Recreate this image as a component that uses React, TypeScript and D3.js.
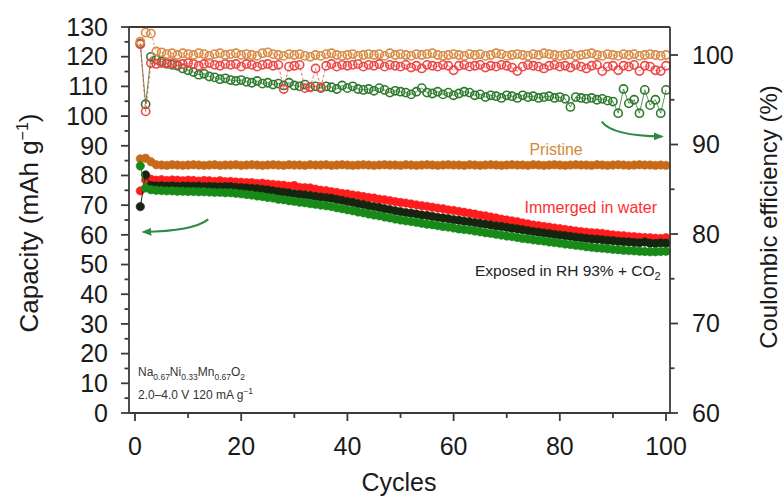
import React from 'react';
import * as d3 from 'd3';

// ---------- data ----------
const cycles: number[] = d3.range(1, 101);

const xTicks = [0, 10, 20, 30, 40, 50, 60, 70, 80, 90, 100];
const xTickLabels = [0, 20, 40, 60, 80, 100];
const yLeftTicks = [0, 10, 20, 30, 40, 50, 60, 70, 80, 90, 100, 110, 120, 130];
const yRightTicks = [60, 70, 80, 90, 100];

// Capacity (mAh g-1), left axis
const capPristine = [
  85.6, 85.8, 84.6, 83.6, 83.5, 83.4, 83.6, 83.5, 83.4, 83.5,
  83.6, 83.5, 83.4, 83.5, 83.6, 83.4, 83.5, 83.5, 83.6, 83.4,
  83.5, 83.6, 83.5, 83.4, 83.5, 83.6, 83.5, 83.4, 83.6, 83.5,
  83.5, 83.4, 83.6, 83.5, 83.5, 83.6, 83.4, 83.5, 83.6, 83.5,
  83.4, 83.5, 83.6, 83.5, 83.4, 83.5, 83.6, 83.5, 83.5, 83.4,
  83.6, 83.5, 83.4, 83.5, 83.6, 83.5, 83.4, 83.5, 83.6, 83.5,
  83.5, 83.4, 83.6, 83.5, 83.4, 83.5, 83.6, 83.5, 83.4, 83.5,
  83.6, 83.5, 83.5, 83.4, 83.6, 83.5, 83.4, 83.5, 83.6, 83.5,
  83.4, 83.5, 83.6, 83.5, 83.5, 83.4, 83.6, 83.5, 83.4, 83.5,
  83.6, 83.5, 83.4, 83.5, 83.6, 83.5, 83.5, 83.4, 83.5, 83.4,
];

const capWater = [
  74.8, 78.5, 78.7, 78.4, 78.6, 78.3, 78.5, 78.4, 78.2, 78.4,
  78.3, 78.1, 78.3, 78.2, 78.0, 78.2, 77.9, 78.0, 77.8, 77.7,
  77.6, 77.6, 77.3, 77.4, 77.1, 77.0, 76.8, 76.7, 76.4, 76.6,
  76.0, 75.9, 75.8, 75.4, 75.0, 74.9, 74.5, 74.3, 73.9, 73.8,
  73.4, 73.2, 72.9, 72.6, 72.4, 72.0, 71.8, 71.5, 71.2, 70.9,
  70.7, 70.4, 70.1, 69.8, 69.6, 69.3, 69.0, 68.8, 68.4, 68.2,
  67.9, 67.6, 67.3, 67.0, 66.6, 66.4, 66.0, 65.7, 65.3, 65.0,
  64.7, 64.4, 64.0, 63.7, 63.3, 63.1, 62.8, 62.6, 62.3, 62.1,
  61.8, 61.6, 61.3, 61.1, 60.9, 60.7, 60.6, 60.5, 60.2, 60.0,
  59.8, 59.7, 59.5, 59.4, 59.2, 59.1, 59.0, 58.9, 58.8, 59.0,
];

const capExposedCO2 = [
  69.5, 80.2, 76.6, 76.5, 76.5, 76.4, 76.5, 76.3, 76.4, 76.4,
  76.3, 76.4, 76.2, 76.3, 76.2, 76.1, 76.2, 76.2, 76.0, 75.9,
  75.8, 75.6, 75.5, 75.3, 75.1, 74.8, 74.5, 74.3, 74.1, 73.8,
  73.6, 73.4, 73.2, 72.9, 72.7, 72.5, 72.3, 71.9, 71.6, 71.2,
  70.9, 70.5, 70.2, 69.8, 69.5, 69.2, 68.8, 68.5, 68.1, 67.8,
  67.5, 67.3, 67.0, 66.7, 66.5, 66.2, 65.9, 65.7, 65.4, 65.1,
  64.9, 64.6, 64.4, 64.1, 63.8, 63.6, 63.3, 63.0, 62.8, 62.5,
  62.2, 62.0, 61.7, 61.4, 61.1, 60.9, 60.6, 60.4, 60.1, 59.9,
  59.7, 59.5, 59.2, 59.0, 58.8, 58.6, 58.5, 58.3, 58.1, 58.0,
  57.8, 57.7, 57.6, 57.4, 57.3, 57.6, 57.2, 57.1, 57.3, 57.2,
];

const capExposedRH = [
  83.2, 75.8, 75.2, 75.0, 74.9, 74.8, 74.8, 74.7, 74.7, 74.6,
  74.6, 74.5, 74.5, 74.4, 74.3, 74.3, 74.2, 74.2, 74.0, 73.8,
  73.6, 73.4, 73.1, 72.9, 72.6, 72.4, 72.0, 71.8, 71.5, 71.3,
  71.0, 70.8, 70.5, 70.3, 70.0, 69.8, 69.5, 69.1, 68.8, 68.4,
  68.1, 67.7, 67.4, 67.0, 66.7, 66.4, 66.0, 65.7, 65.3, 65.0,
  64.7, 64.5, 64.2, 63.9, 63.6, 63.4, 63.1, 62.8, 62.6, 62.3,
  62.0, 61.8, 61.6, 61.3, 61.0, 60.7, 60.5, 60.2, 59.9, 59.6,
  59.4, 59.1, 58.8, 58.6, 58.3, 58.1, 57.9, 57.6, 57.4, 57.2,
  56.9, 56.7, 56.5, 56.3, 56.0, 55.8, 55.6, 55.5, 55.3, 55.1,
  55.0, 54.8, 54.7, 54.6, 54.5, 54.4, 54.3, 54.3, 54.4, 54.5,
];

// Coulombic efficiency (%), right axis
const cePristine = [
  101.5, 102.5, 102.4, 100.4, 100.3, 100.1, 100.2, 100.0, 100.2, 100.1,
  100.0, 100.2, 100.1, 99.9, 100.1, 100.2, 100.0, 100.1, 100.2, 100.0,
  100.1, 100.0, 99.9, 100.2, 100.3, 100.1, 100.0, 99.9, 100.1, 100.0,
  100.1, 99.9, 99.8, 100.0, 99.9, 100.1, 100.2, 100.0, 99.9, 100.0,
  100.1, 99.9, 100.0, 100.1, 100.0, 100.1, 99.9, 100.2, 100.0, 100.1,
  100.0, 99.9, 100.1, 100.0, 100.1, 100.2, 100.0, 99.9, 100.0, 100.1,
  100.0, 99.9, 100.1, 100.0, 100.1, 99.9, 100.0, 100.2, 100.1, 99.9,
  100.0, 100.1, 100.0, 99.9, 100.1, 100.0, 100.2, 100.1, 100.0, 99.9,
  100.0, 100.1, 99.9, 100.0, 100.1, 100.2, 100.0, 99.9, 100.1, 100.0,
  99.9, 100.1, 100.0, 100.1, 99.9, 100.0, 100.1, 100.0, 99.9, 100.0,
];

const ceWater = [
  101.2, 93.7, 99.1, 99.0, 99.1, 99.0, 99.1, 98.9, 99.0, 99.1,
  99.0, 98.8, 99.0, 99.1, 98.9, 98.8, 99.0, 98.9, 99.0, 98.7,
  99.0, 98.9, 98.7, 98.9, 99.0, 98.8, 98.9, 96.2, 98.7, 98.8,
  98.9, 96.3, 96.4, 98.5, 96.4, 98.8, 99.0, 98.7, 98.9, 98.8,
  98.9, 99.0, 98.7, 98.9, 98.8, 99.0, 98.7, 98.9, 98.8, 98.7,
  98.9, 98.6, 98.8, 98.5, 98.9, 98.8, 98.7, 98.9, 98.8, 98.3,
  98.8, 98.9, 98.7, 98.8, 98.9, 98.6, 98.8, 98.7, 98.9, 98.8,
  98.6, 98.2, 98.7, 98.9, 98.8, 98.7, 98.5, 98.8, 98.9, 98.7,
  98.8, 98.6, 98.9, 98.7, 98.5, 98.8, 98.9, 98.2, 98.7, 98.8,
  98.3, 98.8, 98.7, 98.9, 98.2, 98.8, 98.7, 98.3, 98.2, 98.8,
];

const ceExposedRH = [
  101.3, 94.5, 99.8, 99.5, 99.3, 99.1, 98.9, 98.8, 98.5, 98.3,
  98.1, 97.8, 97.9, 97.6, 97.5, 97.3, 97.4, 97.2, 97.1, 97.2,
  97.0, 96.9, 97.1, 96.8, 96.9, 96.7, 96.8, 96.6, 96.9, 96.6,
  96.5, 96.7, 96.4, 96.5, 96.3, 96.5, 96.4, 96.2, 96.6, 96.3,
  96.5, 96.2, 96.1, 96.2, 96.0, 96.3, 96.1, 95.8, 96.0, 95.9,
  95.8, 95.6, 95.9, 96.3, 95.8, 95.7, 95.9, 95.6, 95.8, 95.5,
  95.7, 95.9, 95.8, 95.5, 95.6, 95.3, 95.5, 95.4, 95.2, 95.5,
  95.4, 95.2, 95.5, 95.3, 95.4, 95.2, 95.3, 95.4, 95.2, 95.3,
  95.1, 94.2, 95.3, 95.2, 95.1, 95.2, 95.0, 95.1, 94.9, 94.8,
  93.5, 96.2, 94.6, 95.0, 93.5, 96.1, 94.4, 95.0, 93.5, 96.1,
];

// annotation anchors in data units (cycle, capacity)
const arrowCE = [[87.9, 98.1], [89.9, 93.3], [99.2, 93.1]];
const arrowCap = [[13.8, 65.2], [10.9, 61.2], [1.6, 61.0]];

// ---------- styles ----------
const FONT = "'Liberation Sans', Arial, Helvetica, sans-serif";
const C_PRISTINE_CAP = '#c8691a';
const C_PRISTINE_CE = '#d98a45';
const C_WATER_CAP = '#ff1c1c';
const C_WATER_CE = '#ef4646';
const C_CO2 = '#15250f';
const C_RH_CAP = '#178a17';
const C_RH_CE = '#2f7a2f';
const C_ARROW = '#2e8b45';
const C_AXIS = '#3a3a3a';

const W = 783;
const H = 499;

export default function App() {
  const x = d3.scaleLinear().domain([-1.13, 100.75]).range([129, 670]);
  const yL = d3.scaleLinear().domain([0, 130]).range([413, 27]);
  const yR = d3.scaleLinear().domain([60, 103.13]).range([413, 27]);

  const [x0, x1] = x.range();
  const [yb, yt] = yL.range();

  const lineL = d3.line<number>().x((_, i) => x(cycles[i])).y((d) => yL(d));
  const lineR = d3.line<number>().x((_, i) => x(cycles[i])).y((d) => yR(d));

  const filled = (data: number[], color: string, key: string) => (
    <g key={key}>
      <path d={lineL(data) || ''} fill="none" stroke={color} strokeWidth={1} />
      {data.map((d, i) => (
        <circle key={i} cx={x(cycles[i])} cy={yL(d)} r={4.2} fill={color} stroke={color} strokeWidth={0.6} />
      ))}
    </g>
  );
  const open = (data: number[], color: string, key: string, dash: string) => (
    <g key={key}>
      <path d={lineR(data) || ''} fill="none" stroke={color} strokeWidth={1} strokeDasharray={dash} opacity={0.8} />
      {data.map((d, i) => (
        <circle key={i} cx={x(cycles[i])} cy={yR(d)} r={4.1} fill="none" stroke={color} strokeWidth={1.6} />
      ))}
    </g>
  );

  const arrowPath = (pts: number[][]) => {
    const p = d3.path();
    p.moveTo(x(pts[0][0]), yL(pts[0][1]));
    p.quadraticCurveTo(x(pts[1][0]), yL(pts[1][1]), x(pts[2][0]), yL(pts[2][1]));
    return p.toString();
  };

  const tickFont = 25;

  return (
    <div style={{ position: 'absolute', left: 0, top: 0 }}>
      <svg width={W} height={H} style={{ display: 'block', background: '#fff' }} fontFamily={FONT}>
        <defs>
          <marker id="ah" viewBox="0 0 10 10" refX="8" refY="5" markerWidth="5" markerHeight="5" orient="auto-start-reverse" markerUnits="strokeWidth">
            <path d="M0,1 L10,5 L0,9 z" fill={C_ARROW} />
          </marker>
        </defs>

        {/* CE series (open circles) */}
        {open(ceExposedRH, C_RH_CE, 'ceRH', '')}
        {open(ceWater, C_WATER_CE, 'ceW', '3,2')}
        {open(cePristine, C_PRISTINE_CE, 'ceP', '3,2')}

        {/* capacity series (filled circles) */}
        {filled(capPristine, C_PRISTINE_CAP, 'cP')}
        {filled(capWater, C_WATER_CAP, 'cW')}
        {filled(capExposedCO2, C_CO2, 'cC')}
        {filled(capExposedRH, C_RH_CAP, 'cR')}

        {/* arrows */}
        <path d={arrowPath(arrowCE)} fill="none" stroke={C_ARROW} strokeWidth={2} markerEnd="url(#ah)" />
        <path d={arrowPath(arrowCap)} fill="none" stroke={C_ARROW} strokeWidth={2} markerEnd="url(#ah)" />

        {/* frame / axes */}
        <g stroke={C_AXIS} strokeWidth={1.8} fill="none">
          <line x1={x0} x2={x1} y1={yt} y2={yt} />
          <line x1={x0} x2={x1} y1={yb} y2={yb} />
          <line x1={x0} x2={x0} y1={yt} y2={yb} />
          <line x1={x1} x2={x1} y1={yt} y2={yb} />
          {yLeftTicks.map((v) => (
            <line key={'lm' + v} x1={x0 - 8} x2={x0} y1={yL(v)} y2={yL(v)} />
          ))}
          {yLeftTicks.slice(0, -1).map((v) => (
            <line key={'ln' + v} x1={x0 - 4.5} x2={x0} y1={yL(v + 5)} y2={yL(v + 5)} />
          ))}
          {yRightTicks.map((v) => (
            <line key={'rm' + v} x1={x1} x2={x1 + 8} y1={yR(v)} y2={yR(v)} />
          ))}
          {yRightTicks.slice(0, -1).map((v) => (
            <line key={'rn' + v} x1={x1} x2={x1 + 4.5} y1={yR(v + 5)} y2={yR(v + 5)} />
          ))}
          {xTicks.map((v) => (
            <line key={'xt' + v} x1={x(v)} x2={x(v)} y1={yb} y2={yb + (v % 20 === 0 ? 8 : 5)} />
          ))}
        </g>

        <g fontSize={tickFont} fill="#1a1a1a">
          {yLeftTicks.map((v) => (
            <text key={'lt' + v} x={108} y={yL(v)} dy="0.35em" textAnchor="end">{v}</text>
          ))}
          {yRightTicks.map((v) => (
            <text key={'rt' + v} x={692} y={yR(v)} dy="0.35em" textAnchor="start">{v}</text>
          ))}
          {xTickLabels.map((v) => (
            <text key={'xl' + v} x={x(v)} y={455} textAnchor="middle">{v}</text>
          ))}
        </g>

        {/* axis titles */}
        <text transform="translate(38,223) rotate(-90)" textAnchor="middle" fontSize={26} fill="#1a1a1a">
          Capacity (mAh g<tspan dy={-10} fontSize={16}>−1</tspan><tspan dy={10}>)</tspan>
        </text>
        <text transform="translate(777,217) rotate(-90)" textAnchor="middle" fontSize={24} fill="#1a1a1a">
          Coulombic efficiency (%)
        </text>
        <text x={399} y={491} textAnchor="middle" fontSize={25} fill="#1a1a1a">Cycles</text>

        {/* series labels */}
        <text x={x(79.3)} y={yL(86.9)} textAnchor="middle" fontSize={16} fill="#d4883a">Pristine</text>
        <text x={x(98.3)} y={yL(67.4)} textAnchor="end" fontSize={16} fill="#ff2e2e">Immerged in water</text>
        <text x={x(99.0)} y={yL(46.1)} textAnchor="end" fontSize={15.5} fill="#222">
          Exposed in RH 93% + CO<tspan dy={4} fontSize={11}>2</tspan>
        </text>

        {/* material / conditions */}
        <g fontSize={12} fill="#333">
          <text x={x(0.56)} y={yL(12.5)}>
            Na<tspan dy={4} fontSize={8.5}>0.67</tspan>
            <tspan dy={-4}>Ni</tspan><tspan dy={4} fontSize={8.5}>0.33</tspan>
            <tspan dy={-4}>Mn</tspan><tspan dy={4} fontSize={8.5}>0.67</tspan>
            <tspan dy={-4}>O</tspan><tspan dy={4} fontSize={8.5}>2</tspan>
          </text>
          <text x={x(0.56)} y={yL(4.7)}>
            2.0–4.0 V 120 mA g<tspan dy={-5} fontSize={8.5}>−1</tspan>
          </text>
        </g>
      </svg>
    </div>
  );
}
